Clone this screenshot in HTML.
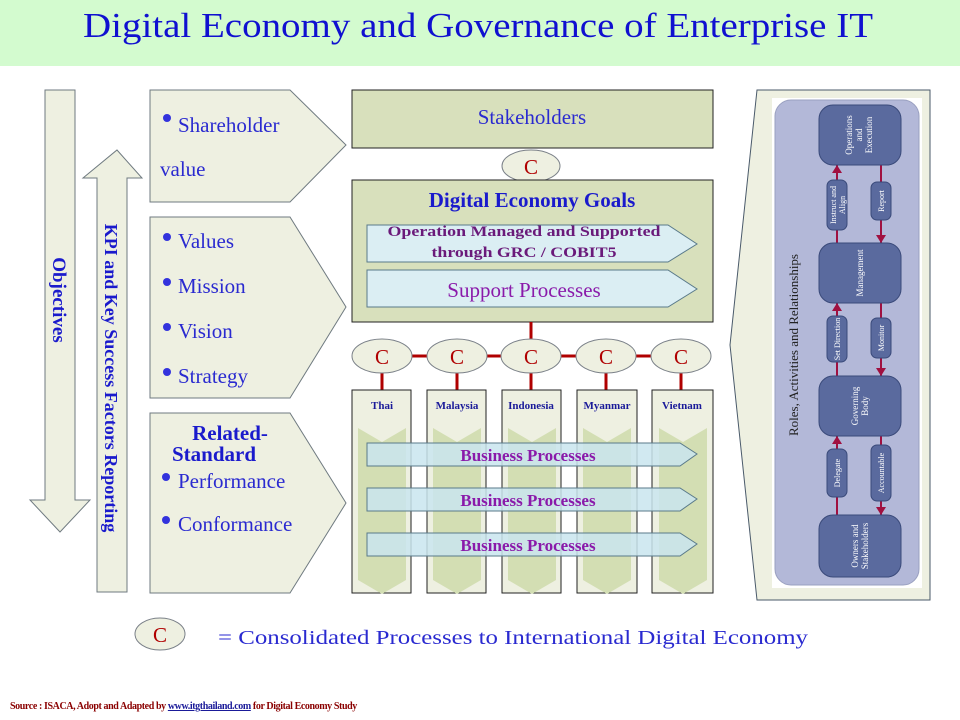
<!DOCTYPE html>
<html><head><meta charset="utf-8"><style>
html,body{margin:0;padding:0;background:#fff;}
svg{display:block;}
text{font-family:"Liberation Serif",serif;}
</style></head><body>
<svg width="960" height="720" viewBox="0 0 960 720" xmlns="http://www.w3.org/2000/svg">
<defs>
<g id="chev"><polygon points="0,0 24,14 48,0 48,60 24,74 0,60" fill="#d3deb3"/></g>
</defs>
<rect x="0" y="0" width="960" height="66" fill="#d3fbcf"/>
<text x="83" y="37" font-size="35" fill="#1010d0" textLength="790" lengthAdjust="spacingAndGlyphs">Digital Economy  and Governance of Enterprise IT</text>

<polygon points="45,90 75,90 75,500 90,500 60,532 30,500 45,500" fill="#eef0e1" stroke="#6f7a80" stroke-width="1"/>
<text transform="translate(53,300) rotate(90)" text-anchor="middle" font-size="19" font-weight="bold" fill="#1a1acc">Objectives</text>
<polygon points="117,150 142,178 127,178 127,592 97,592 97,178 83,178" fill="#eef0e1" stroke="#6f7a80" stroke-width="1"/>
<text transform="translate(105,378) rotate(90)" text-anchor="middle" font-size="18" font-weight="bold" fill="#1a1acc">KPI and Key Success Factors Reporting</text>

<polygon points="150,90 290,90 346,145 290,202 150,202" fill="#eef0e1" stroke="#6f7a80"/>
<polygon points="150,217 290,217 346,307 290,398 150,398" fill="#eef0e1" stroke="#6f7a80"/>
<polygon points="150,413 290,413 346,503 290,593 150,593" fill="#eef0e1" stroke="#6f7a80"/>
<g font-size="21" fill="#2a2ad0">
<circle cx="167" cy="118" r="4" fill="#3333dd"/><text x="178" y="132">Shareholder</text>
<text x="160" y="176">value</text>
<circle cx="167" cy="237" r="4" fill="#3333dd"/><text x="178" y="248">Values</text>
<circle cx="167" cy="282" r="4" fill="#3333dd"/><text x="178" y="293">Mission</text>
<circle cx="167" cy="327" r="4" fill="#3333dd"/><text x="178" y="338">Vision</text>
<circle cx="167" cy="372" r="4" fill="#3333dd"/><text x="178" y="383">Strategy</text>
<circle cx="166" cy="477" r="4" fill="#3333dd"/><text x="178" y="488">Performance</text>
<circle cx="166" cy="520" r="4" fill="#3333dd"/><text x="178" y="531">Conformance</text>
</g>
<text x="230" y="440" font-size="21" font-weight="bold" fill="#1a1acc" text-anchor="middle">Related-</text>
<text x="214" y="461" font-size="21" font-weight="bold" fill="#1a1acc" text-anchor="middle">Standard</text>

<rect x="352" y="90" width="361" height="58" fill="#d8e0bc" stroke="#222"/>
<text x="532" y="124" font-size="21" fill="#2a2ad0" text-anchor="middle">Stakeholders</text>
<ellipse cx="531" cy="166" rx="29" ry="16" fill="#eef0e1" stroke="#7a8088"/>
<text x="531" y="174" font-size="21" fill="#b00000" text-anchor="middle">C</text>

<rect x="352" y="180" width="361" height="142" fill="#d8e0bc" stroke="#222"/>
<text x="532" y="207" font-size="21" font-weight="bold" fill="#1a1acc" text-anchor="middle">Digital Economy  Goals</text>
<polygon points="367,225 668,225 697,244 668,262 367,262" fill="#dbeef3" stroke="#5a7a8a"/>
<polygon points="367,270 668,270 697,289 668,307 367,307" fill="#dbeef3" stroke="#5a7a8a"/>
<text x="524" y="236" font-size="15" font-weight="bold" fill="#6a1a7a" text-anchor="middle" textLength="273" lengthAdjust="spacingAndGlyphs">Operation Managed and Supported</text>
<text x="524" y="257" font-size="15" font-weight="bold" fill="#6a1a7a" text-anchor="middle" textLength="185" lengthAdjust="spacingAndGlyphs">through GRC / COBIT5</text>
<text x="524" y="297" font-size="21" fill="#8a1aaa" text-anchor="middle">Support Processes</text>

<g stroke="#b00000" stroke-width="3">
<line x1="531" y1="322" x2="531" y2="340"/>
<line x1="382" y1="356" x2="681" y2="356"/>
<line x1="382" y1="372" x2="382" y2="390"/>
<line x1="457" y1="372" x2="457" y2="390"/>
<line x1="531" y1="372" x2="531" y2="390"/>
<line x1="606" y1="372" x2="606" y2="390"/>
<line x1="681" y1="372" x2="681" y2="390"/>
</g>
<g fill="#eef0e1" stroke="#7a8088">
<ellipse cx="382" cy="356" rx="30" ry="17"/>
<ellipse cx="457" cy="356" rx="30" ry="17"/>
<ellipse cx="531" cy="356" rx="30" ry="17"/>
<ellipse cx="606" cy="356" rx="30" ry="17"/>
<ellipse cx="681" cy="356" rx="30" ry="17"/>
</g>
<g font-size="21" fill="#b00000" text-anchor="middle">
<text x="382" y="364">C</text><text x="457" y="364">C</text><text x="531" y="364">C</text><text x="606" y="364">C</text><text x="681" y="364">C</text>
</g>

<g fill="#eef0e1" stroke="#222">
<rect x="352" y="390" width="59" height="203"/>
<rect x="427" y="390" width="59" height="203"/>
<rect x="502" y="390" width="59" height="203"/>
<rect x="577" y="390" width="60" height="203"/>
<rect x="652" y="390" width="61" height="203"/>
</g>
<g>
<use href="#chev" x="358" y="428"/><use href="#chev" x="358" y="475"/><use href="#chev" x="358" y="520"/>
<use href="#chev" x="433" y="428"/><use href="#chev" x="433" y="475"/><use href="#chev" x="433" y="520"/>
<use href="#chev" x="508" y="428"/><use href="#chev" x="508" y="475"/><use href="#chev" x="508" y="520"/>
<use href="#chev" x="583" y="428"/><use href="#chev" x="583" y="475"/><use href="#chev" x="583" y="520"/>
<use href="#chev" x="659" y="428"/><use href="#chev" x="659" y="475"/><use href="#chev" x="659" y="520"/>
</g>
<g font-size="11" font-weight="bold" fill="#1a1a99" text-anchor="middle">
<text x="382" y="409">Thai</text><text x="457" y="409">Malaysia</text><text x="531" y="409">Indonesia</text><text x="607" y="409">Myanmar</text><text x="682" y="409">Vietnam</text>
</g>
<g fill="#c9e5ee" fill-opacity="0.85" stroke="#5a7a8a">
<polygon points="367,443 680,443 697,454 680,466 367,466"/>
<polygon points="367,488 680,488 697,499 680,511 367,511"/>
<polygon points="367,533 680,533 697,544 680,556 367,556"/>
</g>
<g font-size="17" font-weight="bold" fill="#8a1aaa" text-anchor="middle">
<text x="528" y="461">Business Processes</text>
<text x="528" y="506">Business Processes</text>
<text x="528" y="551">Business Processes</text>
</g>

<polygon points="757,90 930,90 930,600 757,600 730,345" fill="#eef0e1" stroke="#4a5a6a"/>
<rect x="772" y="98" width="150" height="490" fill="#fff"/>
<rect x="775" y="100" width="144" height="485" rx="16" fill="#b3b8d8" stroke="#9aa0c0"/>
<text transform="translate(798,345) rotate(-90)" text-anchor="middle" font-family="Liberation Sans Narrow, Liberation Sans, sans-serif" font-size="13" fill="#222">Roles, Activities and Relationships</text>
<g stroke="#a01040" stroke-width="2">
<line x1="837" y1="165" x2="837" y2="243"/><line x1="881" y1="165" x2="881" y2="243"/>
<line x1="837" y1="303" x2="837" y2="376"/><line x1="881" y1="303" x2="881" y2="376"/>
<line x1="837" y1="436" x2="837" y2="515"/><line x1="881" y1="436" x2="881" y2="515"/>
</g>
<g fill="#a01040">
<polygon points="832,173 842,173 837,165"/><polygon points="876,235 886,235 881,243"/>
<polygon points="832,311 842,311 837,303"/><polygon points="876,368 886,368 881,376"/>
<polygon points="832,444 842,444 837,436"/><polygon points="876,507 886,507 881,515"/>
</g>
<g fill="#5a6a9e" stroke="#3a4a7a">
<rect x="819" y="105" width="82" height="60" rx="14"/>
<rect x="819" y="243" width="82" height="60" rx="14"/>
<rect x="819" y="376" width="82" height="60" rx="14"/>
<rect x="819" y="515" width="82" height="62" rx="14"/>
<rect x="827" y="180" width="20" height="50" rx="6"/>
<rect x="871" y="182" width="20" height="38" rx="6"/>
<rect x="827" y="316" width="20" height="46" rx="6"/>
<rect x="871" y="318" width="20" height="40" rx="6"/>
<rect x="827" y="449" width="20" height="48" rx="6"/>
<rect x="871" y="445" width="20" height="56" rx="6"/>
</g>
<g font-family="Liberation Sans Narrow, Liberation Sans, sans-serif" font-size="9" fill="#fff" text-anchor="middle">
<text transform="translate(860,135) rotate(-90)"><tspan x="0" dy="-8">Operations</tspan><tspan x="0" dy="10">and</tspan><tspan x="0" dy="10">Execution</tspan></text>
<text transform="translate(860,273) rotate(-90)" dy="3">Management</text>
<text transform="translate(860,406) rotate(-90)"><tspan x="0" dy="-2">Governing</tspan><tspan x="0" dy="10">Body</tspan></text>
<text transform="translate(860,546) rotate(-90)"><tspan x="0" dy="-2">Owners and</tspan><tspan x="0" dy="10">Stakeholders</tspan></text>
<text transform="translate(837,205) rotate(-90)" font-size="8"><tspan x="0" dy="-1">Instruct and</tspan><tspan x="0" dy="9">Align</tspan></text>
<text transform="translate(881,201) rotate(-90)" font-size="8" dy="3">Report</text>
<text transform="translate(837,339) rotate(-90)" font-size="8" dy="3">Set Direction</text>
<text transform="translate(881,338) rotate(-90)" font-size="8" dy="3">Monitor</text>
<text transform="translate(837,473) rotate(-90)" font-size="8" dy="3">Delegate</text>
<text transform="translate(881,473) rotate(-90)" font-size="8" dy="3">Accountable</text>
</g>

<ellipse cx="160" cy="634" rx="25" ry="16" fill="#eef0e1" stroke="#7a8088"/>
<text x="160" y="642" font-size="21" fill="#b00000" text-anchor="middle">C</text>
<text x="218" y="644" font-size="20" fill="#2a2ad0" textLength="590" lengthAdjust="spacingAndGlyphs">=  Consolidated  Processes to International  Digital Economy</text>

<text x="10" y="709" font-size="10" font-weight="bold" fill="#8a0000" letter-spacing="-0.4">Source : ISACA, Adopt and Adapted by <tspan fill="#1a1a99" text-decoration="underline">www.itgthailand.com</tspan> for Digital Economy Study</text>
</svg>
</body></html>
